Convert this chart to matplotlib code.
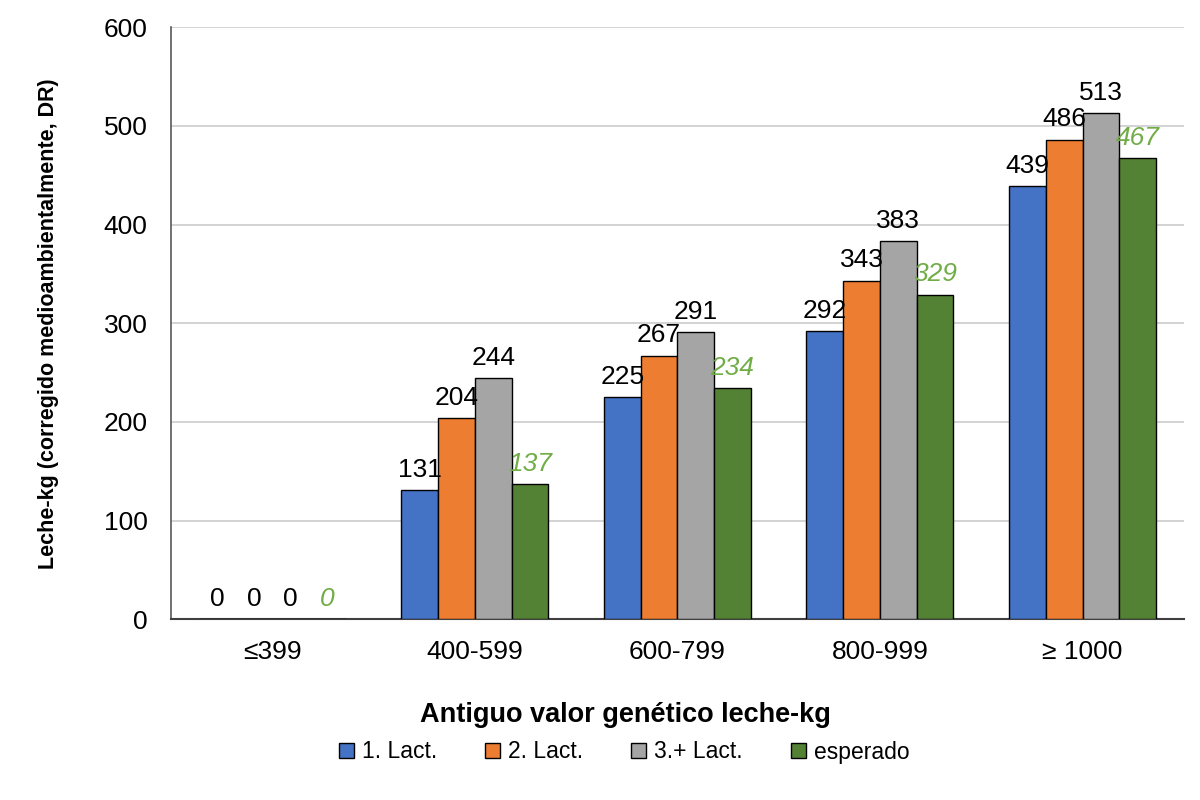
import matplotlib.pyplot as plt
import numpy as np

plt.rcParams['font.family'] = ['Liberation Sans', 'DejaVu Sans']

categories = ['≤399', '400-599', '600-799', '800-999', '≥ 1000']
series_names = ['1. Lact.', '2. Lact.', '3.+ Lact.', 'esperado']
lact1 = [0, 131, 225, 292, 439]
lact2 = [0, 204, 267, 343, 486]
lact3 = [0, 244, 291, 383, 513]
esperado = [0, 137, 234, 329, 467]

colors = ['#4472C4', '#ED7D31', '#A5A5A5', '#548235']

fig = plt.figure(figsize=(12, 8), dpi=100)
ax = fig.add_axes([0.1425, 0.226, 0.844, 0.74])

x = np.arange(len(categories))
width = 0.1815
all_series = [lact1, lact2, lact3, esperado]

for i, (vals, name, col) in enumerate(zip(all_series, series_names, colors)):
    pos = x + (i - 1.5) * width
    ax.bar(pos, vals, width, color=col, edgecolor='black', linewidth=1.0,
           label=name, zorder=3)
    for px, v in zip(pos, vals):
        if i == 3:
            ax.annotate(str(v), (px, v), xytext=(0, 6), textcoords='offset points',
                        ha='center', va='bottom', fontsize=19, color='#70AD47',
                        style='italic', zorder=4)
        else:
            ax.annotate(str(v), (px, v), xytext=(0, 6), textcoords='offset points',
                        ha='center', va='bottom', fontsize=19, color='black', zorder=4)

ax.set_ylim(0, 600)
ax.set_yticks(range(0, 601, 100))
ax.set_xlim(-0.5, len(categories) - 0.5)
ax.set_xticks(x)
ax.set_xticklabels(categories)
ax.tick_params(axis='both', labelsize=19, length=0)
ax.tick_params(axis='x', pad=15)
ax.tick_params(axis='y', pad=17)
ax.grid(axis='y', color='#CCCCCC', linewidth=1.2, zorder=0)

for s in ['top', 'right']:
    ax.spines[s].set_visible(False)
ax.spines['left'].set_color('#595959')
ax.spines['left'].set_linewidth(1.2)
ax.spines['bottom'].set_color('#404040')
ax.spines['bottom'].set_linewidth(1.5)

ax.set_ylabel('Leche-kg (corregido medioambientalmente, DR)', fontsize=15.5,
              fontweight='bold', labelpad=32)
fig.text(0.521, 0.106, 'Antiguo valor genético leche-kg', ha='center', va='center',
         fontsize=19.5, fontweight='bold')

fig.legend(loc='center', bbox_to_anchor=(0.52, 0.06), ncol=4, frameon=False,
           fontsize=16.5, handlelength=0.65, handleheight=0.65, handletextpad=0.35,
           columnspacing=2.1)

fig.savefig('out.png', dpi=100)
